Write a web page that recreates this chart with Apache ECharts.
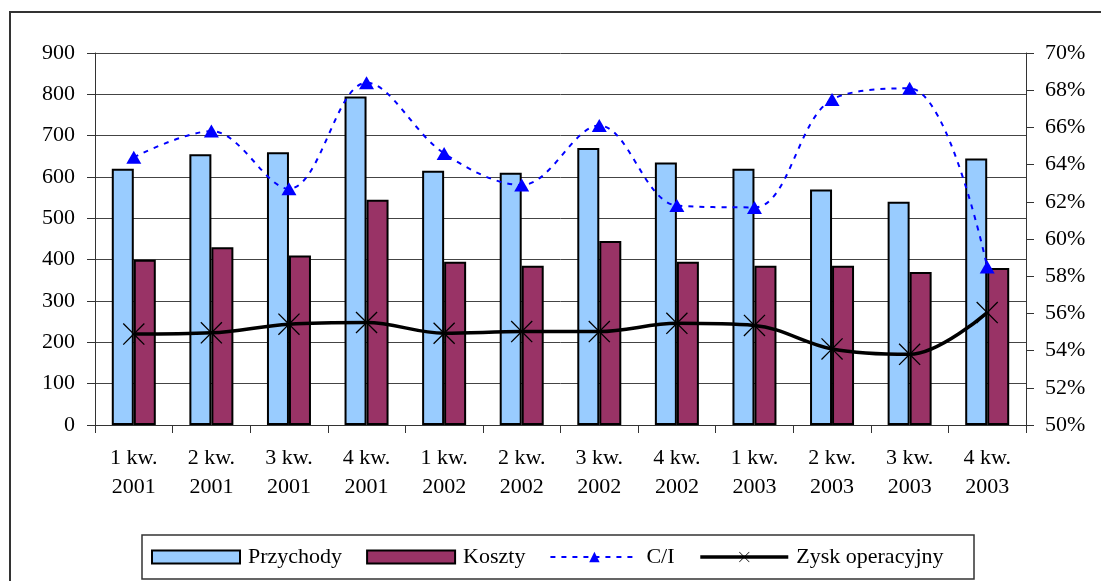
<!DOCTYPE html>
<html>
<head>
<meta charset="utf-8">
<script src="https://cdn.jsdelivr.net/npm/echarts@6/dist/echarts.min.js"></script>
<style>
html,body{margin:0;padding:0;background:#fff;}
#chart{width:1101px;height:581px;}
</style>
</head>
<body>
<div id="chart"></div>
<script>
var categories = ['1 kw.\n2001','2 kw.\n2001','3 kw.\n2001','4 kw.\n2001','1 kw.\n2002','2 kw.\n2002','3 kw.\n2002','4 kw.\n2002','1 kw.\n2003','2 kw.\n2003','3 kw.\n2003','4 kw.\n2003'];
var przychody = [620, 655, 660, 795, 615, 610, 670, 635, 620, 570, 540, 645];
var koszty = [400, 430, 410, 545, 395, 385, 445, 395, 385, 385, 370, 380];
var ci = [64.4, 65.8, 62.7, 68.4, 64.6, 62.9, 66.1, 61.8, 61.7, 67.5, 68.1, 58.5];
var zysk = [220, 223, 244, 248, 222, 226, 226, 246, 241, 184, 171, 272];
var leftTicks = {min: 0, max: 900, interval: 100};
var rightTicks = {min: 50, max: 70, interval: 2};

var FONT = 'Liberation Serif';
var FS = 22;
var xMark = 'path://M0,1L1,0L12,11L23,0L24,1L13,12L24,23L23,24L12,13L1,24L0,23L11,12Z';

var chart = echarts.init(document.getElementById('chart'), null, {renderer: 'canvas'});
chart.setOption({
  backgroundColor: '#ffffff',
  animation: false,
  textStyle: {fontFamily: FONT, color: '#000'},
  graphic: [
    {type: 'rect', z: 100, silent: true, shape: {x: 10, y: 12, width: 1200, height: 700},
     style: {fill: 'none', stroke: '#333', lineWidth: 2}},
    {type: 'rect', z: 100, silent: true, shape: {x: 142, y: 535, width: 832, height: 44},
     style: {fill: 'none', stroke: '#333', lineWidth: 1.5}}
  ],
  legend: {
    left: 151, top: 546,
    padding: 0,
    itemGap: 24,
    itemWidth: 88,
    itemHeight: 13,
    textStyle: {fontFamily: FONT, fontSize: FS, color: '#000', padding: [0, 0, 0, 3]},
    data: [
      {name: 'Przychody', icon: 'rect', itemStyle: {color: '#99ccff', borderColor: '#000', borderWidth: 2}},
      {name: 'Koszty', icon: 'rect', itemStyle: {color: '#993366', borderColor: '#000', borderWidth: 2}},
      {name: 'C/I', lineStyle: {color: '#0000ff', width: 2, type: [5, 6]}},
      {name: 'Zysk operacyjny', lineStyle: {color: '#000', width: 3.5}}
    ]
  },
  grid: {left: 95, right: 75, top: 53, bottom: 156, containLabel: false},
  xAxis: {
    type: 'category',
    data: categories,
    boundaryGap: true,
    axisLine: {show: true, lineStyle: {color: '#333', width: 1}},
    axisTick: {show: true, length: 8, alignWithLabel: false, lineStyle: {color: '#333'}},
    axisLabel: {fontFamily: FONT, fontSize: FS, color: '#000', lineHeight: 29, margin: 19, interval: 0}
  },
  yAxis: [
    {
      type: 'value', min: leftTicks.min, max: leftTicks.max, interval: leftTicks.interval,
      axisLine: {show: true, lineStyle: {color: '#333', width: 1}},
      axisTick: {show: true, length: 8, inside: false, lineStyle: {color: '#333'}},
      axisLabel: {fontFamily: FONT, fontSize: FS, color: '#000', margin: 20},
      splitLine: {show: true, lineStyle: {color: '#444', width: 1}}
    },
    {
      type: 'value', min: rightTicks.min, max: rightTicks.max, interval: rightTicks.interval,
      position: 'right',
      axisLine: {show: true, lineStyle: {color: '#333', width: 1}},
      axisTick: {show: true, length: 8, inside: false, lineStyle: {color: '#333'}},
      axisLabel: {fontFamily: FONT, fontSize: FS, color: '#000', margin: 19, formatter: '{value}%'},
      splitLine: {show: false}
    }
  ],
  series: [
    {
      name: 'Przychody', type: 'bar', data: przychody, barWidth: 22, barGap: '0%',
      itemStyle: {color: '#99ccff', borderColor: '#000', borderWidth: 2}
    },
    {
      name: 'Koszty', type: 'bar', data: koszty, barWidth: 22, barGap: '0%',
      itemStyle: {color: '#993366', borderColor: '#000', borderWidth: 2}
    },
    {
      name: 'C/I', type: 'line', yAxisIndex: 1, data: ci, smooth: 0.35, z: 5,
      symbol: 'triangle', symbolSize: [15, 13],
      lineStyle: {color: '#0000ff', width: 2, type: [5, 6]},
      itemStyle: {color: '#0000ff'}
    },
    {
      name: 'Zysk operacyjny', type: 'line', data: zysk, smooth: 0.35, z: 6,
      symbol: xMark, symbolSize: 22,
      lineStyle: {color: '#000', width: 3.5},
      itemStyle: {color: '#000'}
    }
  ]
});
</script>
</body>
</html>
